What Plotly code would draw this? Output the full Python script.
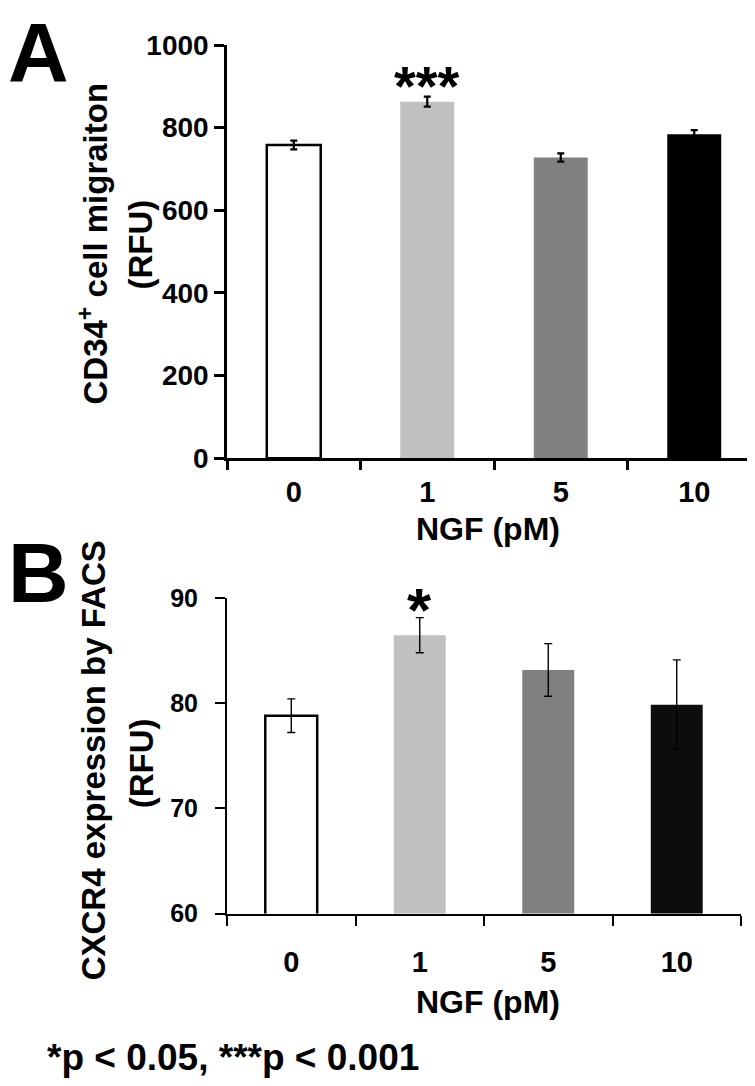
import plotly.graph_objects as go

# ---------------- data ----------------
categories = ["0", "1", "5", "10"]

migration_mean = [758, 863, 728, 784]
migration_err = [10.5, 12, 10, 10]

cxcr4_mean = [78.8, 86.45, 83.15, 79.85]
cxcr4_err = [1.6, 1.67, 2.5, 4.25]

colors_a = ["#ffffff", "#c0c0c0", "#808080", "#000000"]
colors_b = ["#ffffff", "#c0c0c0", "#808080", "#0d0d0d"]
outline_w = [2.5, 0, 0, 0]

yticks_a = [0, 200, 400, 600, 800, 1000]
yticks_b = [60, 70, 80, 90]

sig_a = "***"
sig_b = "*"
footnote = "*p < 0.05, ***p < 0.001"

# ---------------- layout helpers ----------------
W, H = 755, 1086
FONT = "Liberation Sans, Arial, Helvetica, sans-serif"


def px(x):
    return x / W


def py(y):
    return 1 - y / H


fig = go.Figure()

fig.add_trace(go.Bar(
    x=categories, y=migration_mean, xaxis="x", yaxis="y",
    marker=dict(color=colors_a, line=dict(color="black", width=outline_w)),
    error_y=dict(type="data", array=migration_err, color="black",
                 thickness=2.2, width=3.5),
    showlegend=False, hoverinfo="skip",
))

fig.add_trace(go.Bar(
    x=categories, y=cxcr4_mean, xaxis="x2", yaxis="y2",
    marker=dict(color=colors_b, line=dict(color="black", width=outline_w)),
    error_y=dict(type="data", array=cxcr4_err, color="black",
                 thickness=1.4, width=4),
    showlegend=False, hoverinfo="skip",
))

tickfont_a = dict(family=FONT, size=28, color="black", weight="bold")
tickfont_b = dict(family=FONT, size=25, color="black", weight="bold")
xtickfont = dict(family=FONT, size=29, color="black", weight="bold")

axis_common = dict(showgrid=False, zeroline=False, showline=True,
                   linecolor="black", ticks="outside", tickcolor="black",
                   fixedrange=True)

fig.update_layout(
    width=W, height=H,
    margin=dict(l=0, r=0, t=0, b=0),
    paper_bgcolor="white", plot_bgcolor="white",
    bargap=0.596,
    xaxis=dict(domain=[px(219), px(753)], anchor="y", type="category",
               tickson="boundaries", ticklen=9, tickwidth=2.5, linewidth=2.5,
               tickfont=xtickfont, ticklabelstandoff=6, **axis_common),
    yaxis=dict(domain=[py(448), py(22.7)], anchor="x", range=[0, 1000],
               tickvals=yticks_a, ticklen=10, tickwidth=2.5, linewidth=2.5,
               tickfont=tickfont_a, ticklabelstandoff=0, **axis_common),
    xaxis2=dict(domain=[px(219), px(733)], anchor="y2", type="category",
                tickson="boundaries", ticklen=10, tickwidth=2, linewidth=2,
                tickfont=xtickfont, ticklabelstandoff=22, **axis_common),
    yaxis2=dict(domain=[py(916.7), py(591.7)], anchor="x2", range=[60, 90],
                tickvals=yticks_b, ticklen=10, tickwidth=2, linewidth=2,
                tickfont=tickfont_b, ticklabelstandoff=12, **axis_common),
)

bold = lambda size: dict(family=FONT, size=size, color="black", weight="bold")

ann = [
    # panel letters
    dict(text="A", x=px(30), y=py(31), font=bold(84)),
    dict(text="B", x=px(30), y=py(566), font=bold(84)),
    # y titles
    dict(text="CD34<sup>+</sup> cell migraiton", x=px(85), y=py(227),
         textangle=-90, font=bold(33)),
    dict(text="(RFU)", x=px(132), y=py(228), textangle=-90, font=bold(33)),
    dict(text="CXCR4 expression by FACS", x=px(85), y=py(759),
         textangle=-90, font=bold(33)),
    dict(text="(RFU)", x=px(133), y=py(762), textangle=-90, font=bold(33)),
    # x titles
    dict(text="NGF (pM)", x=px(480), y=py(521), font=bold(32)),
    dict(text="NGF (pM)", x=px(480), y=py(1008), font=bold(32)),
    # footnote
    dict(text=footnote, x=px(37), y=py(1065), xanchor="left", font=bold(37)),
]
for a in ann:
    a.setdefault("xref", "paper")
    a.setdefault("yref", "paper")
    a.setdefault("xanchor", "center")
    a.setdefault("yanchor", "middle")
    a["showarrow"] = False
    fig.add_annotation(**a)

# significance stars anchored to the bar tops + error
fig.add_annotation(text=sig_a, x=categories[1],
                   y=migration_mean[1] + migration_err[1], xref="x", yref="y",
                   yanchor="bottom", yshift=-22, showarrow=False, font=bold(56))
fig.add_annotation(text=sig_b, x=categories[1],
                   y=cxcr4_mean[1] + cxcr4_err[1], xref="x2", yref="y2",
                   yanchor="bottom", yshift=-28, showarrow=False, font=bold(62))

fig.write_html("out.html")
